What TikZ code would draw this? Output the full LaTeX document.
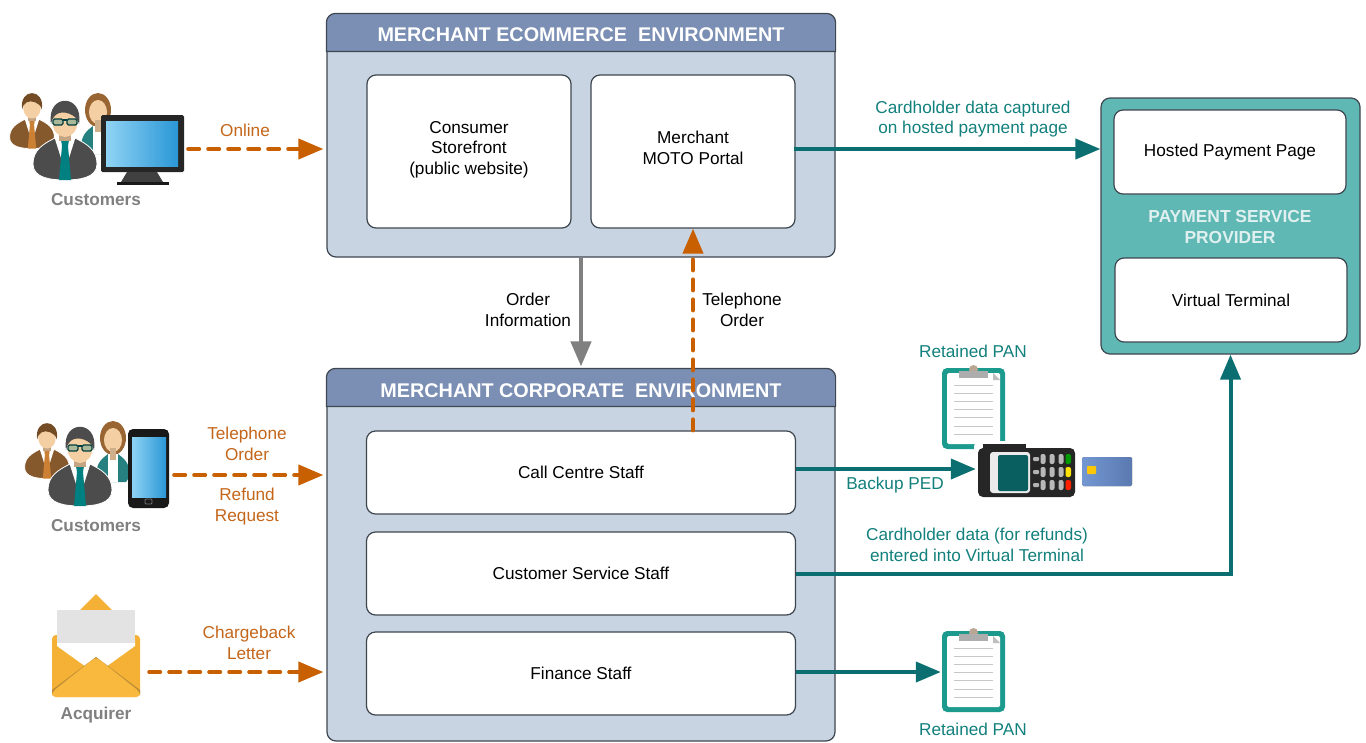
\documentclass[tikz,border=0pt]{standalone}
\usepackage{fontspec}
\setmainfont{Liberation Sans}
\usetikzlibrary{arrows.meta, positioning, calc}

\definecolor{envbody}{HTML}{C9D4E2}
\definecolor{envhead}{HTML}{7B8EB3}
\definecolor{pspfill}{HTML}{5FB8B3}
\definecolor{edgegrey}{HTML}{3E4650}
\definecolor{orangeline}{HTML}{C85F00}
\definecolor{orangetext}{HTML}{C4661A}
\definecolor{tealline}{HTML}{0B6F71}
\definecolor{tealtext}{HTML}{12807C}
\definecolor{clipteal}{HTML}{1C9A8D}
\definecolor{skin}{HTML}{F4CFA4}
\definecolor{screenlight}{HTML}{8FD3F4}
\definecolor{screendark}{HTML}{2A97D6}
\definecolor{letterback}{HTML}{F4B135}
\definecolor{letterfront}{HTML}{F9B93F}
\definecolor{letterfold}{HTML}{B98B35}
\definecolor{cardlight}{HTML}{7397D2}
\definecolor{carddark}{HTML}{5A79B0}

\tikzset{
    basefont/.style={font=\fontsize{17.2}{20.5}\selectfont, align=center, inner sep=0pt},
    envbox/.style={draw=edgegrey, line width=1.2pt, fill=envbody, rounded corners=9pt, minimum width=508pt},
    innerbox/.style={basefont, draw=edgegrey, line width=1.2pt, fill=white, rounded corners=9pt},
    headtext/.style={font=\fontsize{19.8}{22}\selectfont\bfseries, text=white, inner sep=0pt},
    orangelabel/.style={basefont, text=orangetext},
    teallabel/.style={basefont, text=tealtext},
    blacklabel/.style={basefont},
    greylabel/.style={font=\fontsize{17.2}{20}\selectfont\bfseries, text=black!50, inner sep=0pt},
    dasharrow/.style={draw=orangeline, line width=4pt, dash pattern=on 11pt off 9pt, line cap=round, shorten >=3pt,
        -{Triangle[length=25pt,width=20pt,fill=orangeline,sep=0pt]}},
    tealarrow/.style={draw=tealline, line width=4pt, -{Triangle[length=25pt,width=20pt,fill=tealline]}},
    greyarrow/.style={draw=black!50, line width=4.5pt, shorten >=2pt, -{Triangle[length=25pt,width=20pt,fill=black!50]}},
    hook/.style={inner sep=0pt, minimum size=0pt},
    pics/manicon/.style n args={3}{code={
        \fill[draw=white, line width=.8pt, fill=#1] (-32,42) .. controls (-32,28) and (-22,22) .. (-10,16) -- (10,16)
            .. controls (22,22) and (32,28) .. (32,42) .. controls (32,56) and (14,58) .. (0,58)
            .. controls (-14,58) and (-32,56) .. (-32,42) -- cycle;
        \fill[white] (-11,14) -- (11,14) -- (4,36) -- (-4,36) -- cycle;
        \fill[#2] (-4,18) -- (4,18) -- (3,24) -- (6,58) -- (-6,58) -- (-3,24) -- cycle;
        \fill[skin!80!black] (-6,8) rectangle (6,19);
        \fill[skin] (0,0) ellipse (12.5 and 15);
        \fill[#3] (-14,2) .. controls (-19,-29) and (19,-29) .. (14,2) .. controls (12,-8) and (-2,-12) .. (-8,-8)
            .. controls (-11,-6) and (-13,-3) .. (-14,2) -- cycle;
    }},
    pics/glassicon/.style={code={
        \draw[draw=black!50!teal, line width=1.3pt, fill=skin!70!teal, rounded corners=1.5pt] (-12,-3) rectangle (-2,3);
        \draw[draw=black!50!teal, line width=1.3pt, fill=skin!70!teal, rounded corners=1.5pt] (2,-3) rectangle (12,3);
        \draw[draw=black!50!teal, line width=1.3pt] (-2,-2) -- (2,-2);
    }},
    pics/womanicon/.style={code={
        \fill[brown!80!black] (0,0) ellipse (13 and 17);
        \fill[teal!70!gray] (-17,38) .. controls (-17,24) and (-10,20) .. (-5,16) -- (5,16)
            .. controls (10,20) and (17,24) .. (17,38) -- (13,44) -- (-13,44) -- cycle;
        \fill[white] (-5,16) -- (5,16) -- (5,44) -- (-5,44) -- cycle;
        \fill[skin] (0,2) ellipse (9 and 12);
        \fill[skin!85!black] (-3,10) rectangle (3,22);
    }},
    pics/clipicon/.style={code={
        \fill[clipteal, rounded corners=5pt] (-31.5,-40.5) rectangle (31.5,40.5);
        \fill[white, rounded corners=1.5pt] (-26.5,-35.5) rectangle (26.5,35.5);
        \fill[black!25] (19.5,-35.5) -- (26.5,-28.5) -- (19.5,-28.5) -- cycle;
        \fill[black!40!brown!50] (0,-39) circle (4.5);
        \fill[black!32] (-14.5,-38) rectangle (14.5,-31);
        \foreach \i in {0,...,6} {
            \fill[black!22] (-19.5,{-23.5+\i*8.1}) rectangle (19.5,{-22.5+\i*8.1});
        }
    }}
}

\begin{document}
\begin{tikzpicture}[x=1pt, y=-1pt]
\useasboundingbox (0,0) rectangle (1366,742);

% Environment boxes
\node[envbox, minimum height=243pt] (ecom) at (581,135.5) {};
\node[envbox, minimum height=372pt] (corp) at (581,555) {};
\node[draw=edgegrey, line width=1.2pt, fill=pspfill, rounded corners=9pt, minimum width=259pt, minimum height=256pt] (psp) at (1230.5,226) {};

% Header bands
\foreach \env in {ecom, corp} {
    \draw[draw=edgegrey, line width=1.2pt, fill=envhead] ([yshift=-38pt]\env.north west)
        [rounded corners=9pt] -- (\env.north west) -- (\env.north east) [sharp corners] -- ([yshift=-38pt]\env.north east) -- cycle;
}
\node[headtext] (ecomhead) at (581,35) {MERCHANT ECOMMERCE\ \ ENVIRONMENT};
\node[headtext] (corphead) at (581,391) {MERCHANT CORPORATE\ \ ENVIRONMENT};

% Inner boxes
\node[innerbox, minimum width=204pt, minimum height=153pt] (store) at (469,151.5) {};
\node[basefont] (storetext) at (469,149.5) {Consumer\\Storefront\\(public website)};
\node[innerbox, minimum width=204pt, minimum height=153pt] (moto) at (693,151.5) {};
\node[basefont] (mototext) at (693,148) {Merchant\\MOTO Portal};
\foreach \name/\yc/\txt in {call/472.5/Call Centre Staff, service/573.5/Customer Service Staff, finance/673.5/Finance Staff} {
    \node[innerbox, minimum width=429pt, minimum height=83pt] (\name) at (581,\yc) {\txt};
}
\node[innerbox, minimum width=232pt, minimum height=84pt] (hosted) at (1230,152) {Hosted Payment Page};
\node[innerbox, minimum width=232pt, minimum height=84pt] (virtual) at (1231,300) {Virtual Terminal};
\node[font=\fontsize{17.4}{20.5}\selectfont\bfseries, align=center, text=white!88!teal, inner sep=0pt] (psphead) at (1230,227) {PAYMENT SERVICE\\PROVIDER};

% Customers with monitor
\pic[scale=.7] at (32,108) {manicon={brown!70!black}{brown!80!orange}{brown!60!black}};
\pic at (98,110) {womanicon};
\pic at (65,122) {manicon={black!70}{teal}{black!70}};
\pic at (65,122) {glassicon};
\fill[black!85, rounded corners=1.5pt] (101,115) rectangle (184,172);
\fill[left color=screenlight, right color=screendark] (106,121) rectangle (178,166);
\fill[black!75] (127,172) -- (157,172) -- (163,182) -- (121,182) -- cycle;
\fill[black!90] (117,182) rectangle (169,184.5);
\node[hook] (monitor) at (188,149) {};
\node[greylabel] (custa) at (96,200) {Customers};

% Customers with phone
\pic[scale=.7] at (47,438) {manicon={brown!70!black}{brown!80!orange}{brown!60!black}};
\pic at (113,438) {womanicon};
\pic at (80,448) {manicon={black!70}{teal}{black!70}};
\pic at (80,448) {glassicon};
\fill[black!90, rounded corners=5pt] (128,429) rectangle (169,508);
\fill[left color=screenlight, right color=screendark] (132,437) rectangle (166,497);
\draw[black!55, line width=.8pt, rounded corners=1pt] (145,499) rectangle (152,504);
\node[hook] (phone) at (174,475) {};
\node[greylabel] (custb) at (96,526) {Customers};

% Envelope
\fill[letterback] (96,594) -- (114,612) -- (78,612) -- cycle;
\fill[letterback, rounded corners=4pt] (52,635) rectangle (140,697);
\fill[white] (57,640) -- (135,640) -- (135,646) -- (96,674) -- (57,646) -- cycle;
\fill[black!11] (57,610) rectangle (135,643);
\fill[letterfold] (52,690) -- (96,657) -- (140,690) -- (140,695) -- (52,695) -- cycle;
\fill[letterfront, rounded corners=4pt] (52,692) -- (96,657) -- (140,692) -- (140,697) -- (52,697) -- cycle;
\node[hook] (letter) at (149,672) {};
\node[greylabel] (acquirer) at (96,715) {Acquirer};

% Clipboards
\pic at (973.5,408.5) {clipicon};
\pic at (973.5,671.5) {clipicon};
\node[hook] (cliptop) at (976,469) {};
\node[hook] (clipbottom) at (941,672) {};

% Card reader
\fill[white, rounded corners=6pt] (974,441) rectangle (1079,500);
\fill[black!85] (983,444) rectangle (1026,449);
\fill[black!85, rounded corners=5pt] (978,448) rectangle (1075,497);
\fill[black!8, rounded corners=3pt] (990,452) rectangle (1030,493);
\fill[tealline!85!black, rounded corners=2pt] (998,455) rectangle (1028,491);
\foreach \yc in {459,472,485} {
    \fill[black!30, rounded corners=1pt] (1033,\yc-2) rectangle (1039,\yc+2);
    \foreach \xc in {1043,1052,1061} {
        \fill[black!28, rounded corners=2pt] (\xc-2.5,\yc-5) rectangle (\xc+2.5,\yc+5);
    }
}
\foreach \yc/\col in {459/green!60!black, 472/yellow!85!orange, 485/red!75!orange} {
    \fill[\col, rounded corners=2pt] (1065.5,\yc-5) rectangle (1071,\yc+5);
}
\fill[left color=cardlight, right color=carddark, rounded corners=1.5pt] (1082,457) rectangle (1132,486);
\fill[yellow!60!orange, rounded corners=.8pt] (1087,466) rectangle (1096,474);

% Arrows
\draw[dasharrow] (monitor) -- (monitor -| ecom.west);
\draw[dasharrow] (phone) -- (phone -| corp.west);
\draw[dasharrow] (letter) -- (letter -| corp.west);
\draw[dasharrow] (call.north -| moto.south) -- ([yshift=3pt]moto.south);
\draw[greyarrow] (ecom.south) -- (corp.north);
\draw[tealarrow] ([yshift=2.5pt,xshift=-2pt]moto.east) -- ([yshift=2.5pt]moto.east -| psp.west);
\draw[tealarrow] ([yshift=3.5pt]call.east) -- (cliptop);
\draw[tealarrow] (service.east) -| (psp.south);
\draw[tealarrow] ([yshift=1.5pt]finance.east) -- (clipbottom);

% Labels
\node[orangelabel] (online) at (245,130) {Online};
\node[orangelabel] (telorder) at (247,444) {Telephone\\Order};
\node[orangelabel] (refund) at (247,506.5) {Refund\\Request};
\node[orangelabel] (charge) at (249,643) {Chargeback\\Letter};
\node[blacklabel] (orderinfo) at (528,310) {Order\\Information};
\node[blacklabel] (motoorder) at (742,310) {Telephone\\Order};
\node[teallabel] (captured) at (973,119) {Cardholder data captured\\on hosted payment page};
\node[teallabel] (pantop) at (973,351) {Retained PAN};
\node[teallabel] (backup) at (895,485) {Backup PED};
\node[teallabel] (refunds) at (977,545) {Cardholder data (for refunds)\\entered into Virtual Terminal};
\node[teallabel] (panbottom) at (973,729) {Retained PAN};
\end{tikzpicture}
\end{document}
